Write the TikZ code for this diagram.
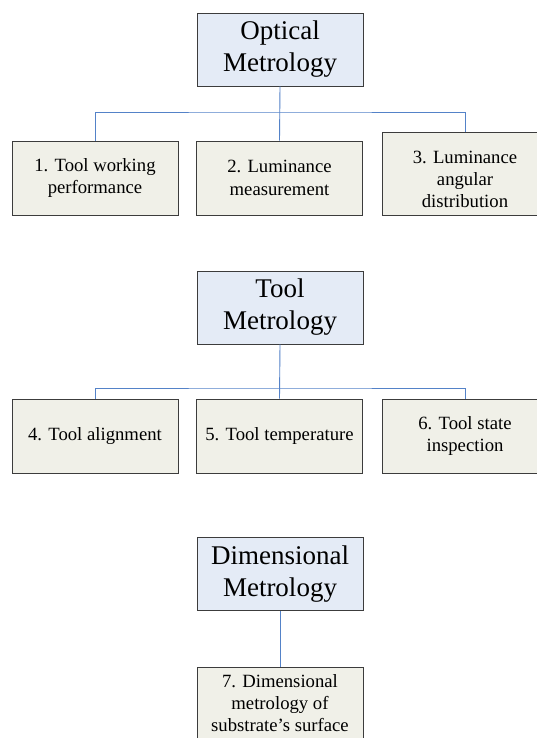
\documentclass[tikz,border=0pt]{standalone}
\usepackage{fontspec}
\setmainfont{Liberation Serif}
\definecolor{topfill}{RGB}{228,235,246}
\definecolor{subfill}{RGB}{240,240,232}
\definecolor{linkblue}{RGB}{84,130,200}
\definecolor{edge}{RGB}{60,60,60}
\begin{document}
\begin{tikzpicture}[x=1pt,y=-1pt,
  topbox/.style={draw=edge, fill=topfill, line width=0.8pt, minimum width=166pt,
    minimum height=73pt, align=center, inner sep=0pt,
    font=\fontsize{27}{32}\selectfont},
  subbox/.style={draw=edge, fill=subfill, line width=0.8pt, minimum width=166pt,
    minimum height=74pt, align=center, inner sep=0pt,
    font=\fontsize{18.7}{22.5}\selectfont},
  subtext/.style={align=center, inner sep=0pt, font=\fontsize{18.7}{22}\selectfont},
  link/.style={draw=linkblue, line width=0.9pt}]
\useasboundingbox (0,0) rectangle (537,738);
\clip (0,0) rectangle (537,738);
\fill[white] (0,0) rectangle (537,738);

% Optical
\node[topbox] (opt) at (280,49.5) {Optical\\Metrology};
\node[subbox] (b1) at (95,178) {1. Tool working\\performance};
\node[subbox] (b2) at (279.5,178) {2. Luminance\\measurement};
\node[subbox, minimum height=83pt] (b3) at (465,173.5) {};
\node[subtext] (b3t) at (465,179) {3. Luminance\\angular\\distribution};
\coordinate (j1) at (280,112);
\draw[link] (opt.south) -- (b2.north);
\draw[link] (b1.north) |- (j1) -| (b3.north);

% Tool
\node[topbox] (tool) at (280,307.5) {Tool\\Metrology};
\node[subbox] (b4) at (95,436) {4. Tool alignment};
\node[subbox] (b5) at (279.5,436) {5. Tool temperature};
\node[subbox] (b6) at (465,436) {6. Tool state\\inspection};
\coordinate (j2) at (280,388);
\draw[link] (tool.south) -- (b5.north);
\draw[link] (b4.north) |- (j2) -| (b6.north);

% Dimensional
\node[topbox] (dim) at (280,574) {Dimensional\\Metrology};
\node[subbox, minimum height=83pt] (b7) at (280,708.5) {};
\node[subtext] (b7t) at (280,703) {7. Dimensional\\metrology of\\substrate’s surface};
\draw[link] (dim.south) -- (b7.north);
\end{tikzpicture}
\end{document}
